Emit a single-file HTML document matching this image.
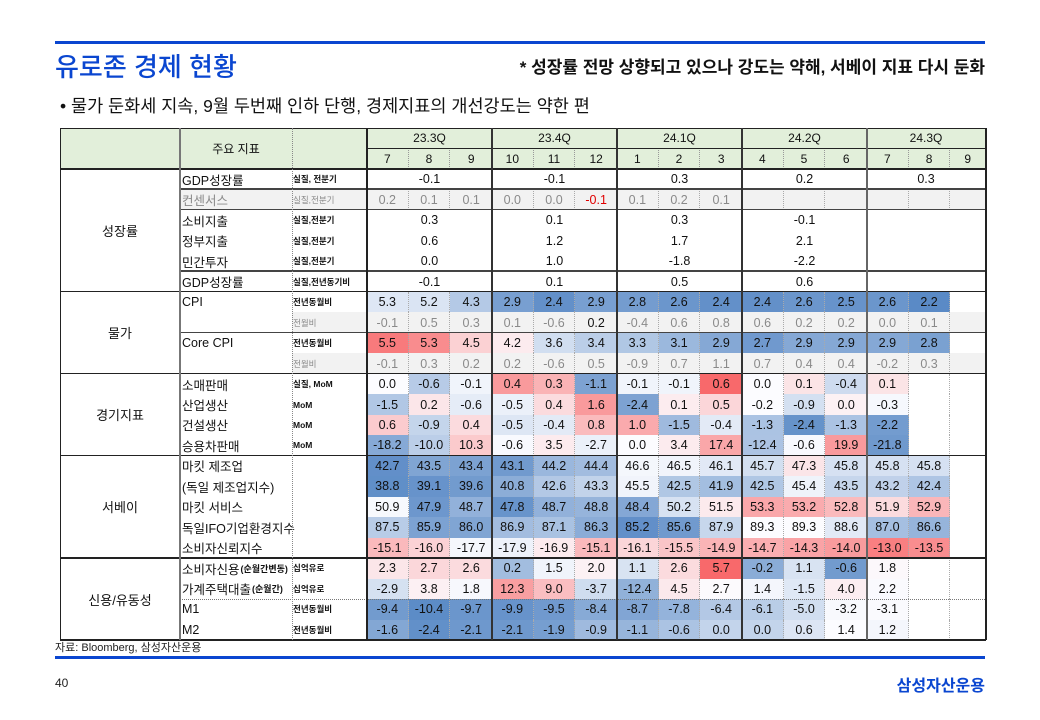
<!DOCTYPE html>
<html><head><meta charset="utf-8">
<style>
body{margin:0;width:1040px;height:720px;background:#fff;position:relative;overflow:hidden;font-family:"Liberation Sans","Noto Sans CJK KR",sans-serif;}
.abs{position:absolute;}
#tbl{position:absolute;left:0;top:0;width:1040px;height:720px;}
.c{position:absolute;box-sizing:border-box;display:flex;align-items:center;justify-content:center;font-size:12.5px;color:#111;white-space:nowrap;}
.n{justify-content:flex-start;padding-left:2px;font-size:12.5px;}
.n small{font-size:9px;font-weight:bold;margin-left:1px;}
.u{justify-content:flex-start;padding-left:1px;font-size:8.5px;font-weight:bold;}
.ln{position:absolute;}
</style></head>
<body>
<div class="abs" style="left:55px;top:41px;width:930px;height:3px;background:#0a46d0"></div>
<div class="abs" style="left:55px;top:50px;font-size:26px;color:#0a46d0;font-family:'Liberation Sans','Noto Sans CJK KR',sans-serif;font-weight:500;line-height:34px">유로존 경제 현황</div>
<div class="abs" style="right:55px;top:56px;font-size:17px;font-weight:bold;color:#111;line-height:24px">* 성장률 전망 상향되고 있으나 강도는 약해, 서베이 지표 다시 둔화</div>
<div class="abs" style="left:60px;top:94px;font-size:17.5px;color:#111;line-height:24px">• 물가 둔화세 지속, 9월 두번째 인하 단행, 경제지표의 개선강도는 약한 편</div>
<div id="tbl"></div>
<div class="abs" style="left:55px;top:641px;font-size:11px;color:#222;line-height:14px">자료: Bloomberg, 삼성자산운용</div>
<div class="abs" style="left:55px;top:656px;width:930px;height:3px;background:#0a46d0"></div>
<div class="abs" style="left:55px;top:676px;font-size:12px;color:#222">40</div>
<div class="abs" style="right:55px;top:672px;font-size:16px;font-weight:bold;color:#0a46d0">삼성자산운용</div>
<script>
const quarters=["23.3Q","23.4Q","24.1Q","24.2Q","24.3Q"];
const months=["7","8","9","10","11","12","1","2","3","4","5","6","7","8","9"];
const categories=["성장률","물가","경기지표","서베이","신용/유동성"];
const rowNames=["GDP성장률","컨센서스","소비지출","정부지출","민간투자","GDP성장률","CPI","","Core CPI","","소매판매","산업생산","건설생산","승용차판매","마킷 제조업","(독일 제조업지수)","마킷 서비스","독일IFO기업환경지수","소비자신뢰지수","소비자신용","가계주택대출","M1","M2"];
const rowNameSubs={19:"(순월간변동)",20:"(순월간)"};
const rowUnits=["실질, 전분기","실질,전분기","실질,전분기","실질,전분기","실질,전분기","실질,전년동기비","전년동월비","전월비","전년동월비","전월비","실질, MoM","MoM","MoM","MoM","","","","","","십억유로","십억유로","전년동월비","전년동월비"];
const gdpQoQ=[-0.1,-0.1,0.3,0.2,0.3];
const consensus=[0.2,0.1,0.1,0.0,0.0,-0.1,0.1,0.2,0.1,null,null,null,null,null,null];
const consumption=[0.3,0.1,0.3,-0.1,null];
const government=[0.6,1.2,1.7,2.1,null];
const investment=[0.0,1.0,-1.8,-2.2,null];
const gdpYoY=[-0.1,0.1,0.5,0.6,null];
const cpi=[5.3,5.2,4.3,2.9,2.4,2.9,2.8,2.6,2.4,2.4,2.6,2.5,2.6,2.2,null];
const cpiMoM=[-0.1,0.5,0.3,0.1,-0.6,0.2,-0.4,0.6,0.8,0.6,0.2,0.2,0.0,0.1,null];
const coreCpi=[5.5,5.3,4.5,4.2,3.6,3.4,3.3,3.1,2.9,2.7,2.9,2.9,2.9,2.8,null];
const coreMoM=[-0.1,0.3,0.2,0.2,-0.6,0.5,-0.9,0.7,1.1,0.7,0.4,0.4,-0.2,0.3,null];
const retail=[0.0,-0.6,-0.1,0.4,0.3,-1.1,-0.1,-0.1,0.6,0.0,0.1,-0.4,0.1,null,null];
const indProd=[-1.5,0.2,-0.6,-0.5,0.4,1.6,-2.4,0.1,0.5,-0.2,-0.9,0.0,-0.3,null,null];
const construction=[0.6,-0.9,0.4,-0.5,-0.4,0.8,1.0,-1.5,-0.4,-1.3,-2.4,-1.3,-2.2,null,null];
const carSales=[-18.2,-10.0,10.3,-0.6,3.5,-2.7,0.0,3.4,17.4,-12.4,-0.6,19.9,-21.8,null,null];
const pmiMfg=[42.7,43.5,43.4,43.1,44.2,44.4,46.6,46.5,46.1,45.7,47.3,45.8,45.8,45.8,null];
const deMfg=[38.8,39.1,39.6,40.8,42.6,43.3,45.5,42.5,41.9,42.5,45.4,43.5,43.2,42.4,null];
const pmiSvc=[50.9,47.9,48.7,47.8,48.7,48.8,48.4,50.2,51.5,53.3,53.2,52.8,51.9,52.9,null];
const ifo=[87.5,85.9,86.0,86.9,87.1,86.3,85.2,85.6,87.9,89.3,89.3,88.6,87.0,86.6,null];
const consumerConf=[-15.1,-16.0,-17.7,-17.9,-16.9,-15.1,-16.1,-15.5,-14.9,-14.7,-14.3,-14.0,-13.0,-13.5,null];
const consumerCredit=[2.3,2.7,2.6,0.2,1.5,2.0,1.1,2.6,5.7,-0.2,1.1,-0.6,1.8,null,null];
const mortgage=[-2.9,3.8,1.8,12.3,9.0,-3.7,-12.4,4.5,2.7,1.4,-1.5,4.0,2.2,null,null];
const m1=[-9.4,-10.4,-9.7,-9.9,-9.5,-8.4,-8.7,-7.8,-6.4,-6.1,-5.0,-3.2,-3.1,null,null];
const m2=[-1.6,-2.4,-2.1,-2.1,-1.9,-0.9,-1.1,-0.6,0.0,0.0,0.6,1.4,1.2,null,null];

const rowData=[gdpQoQ,consensus,consumption,government,investment,gdpYoY,cpi,cpiMoM,coreCpi,coreMoM,retail,indProd,construction,carSales,pmiMfg,deMfg,pmiSvc,ifo,consumerConf,consumerCredit,mortgage,m1,m2];
const colorScales={6:[2.2,6,10],8:[2.5,4.0,5.7],10:[-1.4,0,0.6],11:[-3,-0.2,2.5],12:[-2.6,0,1.8],13:[-25,0,30],14:[42.5,46.8,50],15:[38.5,46,50],16:[47.5,51,55],17:[85,89.3,92],18:[-22,-17.5,-12.2],19:[-1,1.7,5.7],20:[-20,2.5,18],21:[-10.5,-3,5],22:[-2.6,1.4,5]};
const grayRows=[1,7,9];
const catRanges=[[0,6],[6,10],[10,14],[14,19],[19,23]];

const T=document.getElementById('tbl');
const X0=60,XN=180,XU=292,XM=367,XR=985,MW=41.67,Y0=128,YH=148,YD=169,RH=20.48;
function mx(i){return XM+i*MW;}
function mw(i){return i==14?XR-mx(14):MW;}
function ry(r){return YD+r*RH;}
function mix(a,b,t){return a.map((v,k)=>Math.round(v+(b[k]-v)*t));}
function heat(v,s){const B=[90,138,198],W=[252,252,255],R=[248,105,107];
 let c; if(v<=s[1]){let t=Math.min(1,(s[1]-v)/(s[1]-s[0]));c=mix(W,B,t);} else {let t=Math.min(1,(v-s[1])/(s[2]-s[1]));c=mix(W,R,t);} return 'rgb('+c.join(',')+')';}
function fmt(v){return v==null?'':v.toFixed(1);}
function cell(x,y,w,h,txt,cls,style){const d=document.createElement('div');d.className='c '+(cls||'');d.style.cssText='left:'+x+'px;top:'+y+'px;width:'+w+'px;height:'+h+'px;'+(style||'');d.textContent=txt;T.appendChild(d);return d;}
function line(x,y,w,h,style){const d=document.createElement('div');d.className='ln';d.style.cssText='left:'+x+'px;top:'+y+'px;width:'+w+'px;height:'+h+'px;'+style;
 
 
 T.appendChild(d);}

let h=cell(X0,Y0,XM-X0,YD-Y0,'','', 'background:#e2efda');


h=cell(XN,Y0,XU-XN,YD-Y0,'주요 지표','', 'font-size:12px');


quarters.forEach((q,i)=>{const x=mx(i*3),w=(i==4?XR-x:3*MW);
 const d=cell(x,Y0,w,YH-Y0,q,'','background:#e2efda;font-size:12px');
 
 });
months.forEach((m,i)=>{const d=cell(mx(i),YH,mw(i),YD-YH,m,'','background:#e2efda;font-size:12px;'+(i%3!=2?'border-right:1px dotted #999':''));
 
 });

categories.forEach((c,i)=>{const r=catRanges[i];const d=cell(X0,ry(r[0]),XN-X0,ry(r[1])-ry(r[0]),c,'','font-size:13px');
 
 });

rowData.forEach((vals,r)=>{
 const y=ry(r),gray=grayRows.includes(r);
 const tc=gray?'color:#8a8a8a;':'';
 if(gray){const g=cell(r==1?XN:XU,y,XR-(r==1?XN:XU),RH,'','','background:#f2f2f2');
  
  }
 let d=cell(XN,y,XU-XN,RH,rowNames[r],'n',tc);
 if(rowNameSubs[r]){const s=document.createElement('small');s.textContent=rowNameSubs[r];d.appendChild(s);}
 
 
 d=cell(XU,y,XM-XU,RH,rowUnits[r],'u',gray?'color:#888;font-weight:normal':'');
 
 
 if(vals.length==5){
  vals.forEach((v,q)=>{const x=mx(q*3),w=(q==4?XR-x:3*MW);
   const e=cell(x,y,w,RH,fmt(v),'',tc);
   
   });
 } else {
  vals.forEach((v,i)=>{let st=tc;
   if(colorScales[r]&&v!=null) st+='background:'+heat(v,colorScales[r])+';';
   if(gray&&v!=null&&r==1&&v<0) st+='color:#e00000;';
   if(r==7&&i==5) st+='color:#111;';
   if(i%3!=2) st+='border-right:1px dotted #aaa;';
   const e=cell(mx(i),y,mw(i),RH,fmt(v),'',st);
   
   });
 }
});

const dark='background:#222';
line(X0,Y0,XR-X0,1,dark);
line(XM,YH,XR-XM,1,dark);
line(X0,YD-1,XR-X0,1.5,dark);
[6,10,14,19,23].forEach(r=>line(X0,ry(r)-1,XR-X0+1,1.5,dark));
[1,2,5,8].forEach(r=>line(XN,ry(r)-1,XR-XN,1.5,'background:#444'));
line(XN,ry(21),XR-XN,0,'border-top:1px dotted #777');
line(X0,Y0,1,ry(23)-Y0,dark);
line(XR,Y0,1.5,ry(23)-Y0,dark);
line(XN-1,Y0,2,ry(23)-Y0,'background:#777');
line(XU,Y0,0,ry(23)-Y0,'border-left:1px dotted #888');
line(XM-1,Y0,1.5,ry(23)-Y0,dark);
[1,2,3,4].forEach(q=>line(mx(q*3)-1,Y0,1.5,ry(23)-Y0,q==4?'background:#666':'background:#333'));
</script>
</body></html>
